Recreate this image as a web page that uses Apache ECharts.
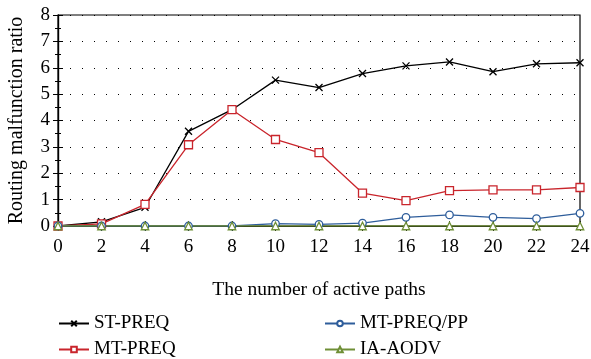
<!DOCTYPE html>
<html><head><meta charset="utf-8">
<script src="https://cdn.jsdelivr.net/npm/echarts@6/dist/echarts.min.js"></script>
<style>html,body{margin:0;padding:0;background:#fff}#c{width:591px;height:359px}</style>
</head><body><div id="c"></div>
<script>
var paths = [0, 2, 4, 6, 8, 10, 12, 14, 16, 18, 20, 22, 24];
var stPreq = [0, 0.16, 0.71, 3.59, 4.41, 5.53, 5.25, 5.78, 6.07, 6.22, 5.85, 6.15, 6.19];
var mtPreq = [0, 0.08, 0.82, 3.08, 4.41, 3.28, 2.78, 1.25, 0.96, 1.34, 1.37, 1.37, 1.46];
var mtPreqPP = [0, 0, 0, 0, 0, 0.09, 0.06, 0.11, 0.33, 0.42, 0.33, 0.28, 0.48];
var iaAodv = [0, 0, 0, 0, 0, 0, 0, 0, 0, 0, 0, 0, 0];
var yTicks = [0, 1, 2, 3, 4, 5, 6, 7, 8];

function pairs(v){ return paths.map(function(x,i){ return [x, v[i]]; }); }
var font = 'Liberation Serif';
var chart = echarts.init(document.getElementById('c'));
function ser(name, data, color, symbol, size){
  return {name:name, type:'line', data:pairs(data), symbol:symbol, symbolSize:size,
    lineStyle:{color:color, width:1.3}, itemStyle:{color: symbol.indexOf('path')===0 ? color : '#fff', borderColor:color, borderWidth:1.3},
    showAllSymbol:true, animation:false, z:3};
}
function leg(name, left, top){
  return {data:[name], orient:'horizontal', left:left, top:top, itemWidth:30, itemHeight:7, itemGap:8,
    textStyle:{fontSize:19, color:'#000', fontFamily:font}};
}
chart.setOption({
  animation:false,
  textStyle:{fontFamily:font},
  grid:{left:58, right:11, top:15, bottom:133, show:true, borderColor:'#000', borderWidth:1.2, containLabel:false, outerBoundsMode:'none'},
  xAxis:[{type:'value', min:0, max:24, interval:2,
    axisLine:{lineStyle:{color:'#000', width:1.2}},
    axisTick:{inside:true, length:5, lineStyle:{color:'#000'}},
    axisLabel:{color:'#000', fontSize:19, fontFamily:font, margin:12},
    splitLine:{show:false},
    name:'The number of active paths', nameLocation:'middle', nameGap:54,
    nameTextStyle:{color:'#000', fontSize:19.5, fontFamily:font}},
   {type:'value', min:0, max:24, interval:2, position:'top',
    axisLine:{lineStyle:{color:'#000', width:1.2}},
    axisTick:{inside:true, length:5, lineStyle:{color:'#000'}},
    axisLabel:{show:false}, splitLine:{show:false}}],
  yAxis:[{type:'value', min:0, max:8, interval:1,
    axisLine:{show:true, lineStyle:{color:'#000', width:1.2}},
    axisTick:{show:true, inside:true, length:5, lineStyle:{color:'#000'}},
    minorTick:{show:true, splitNumber:2, length:3, lineStyle:{color:'#000'}},
    axisLabel:{color:'#000', fontSize:19, fontFamily:font, margin:8,
      formatter:function(v){ return yTicks.indexOf(v)>=0 ? String(v) : ''; }},
    splitLine:{show:true, lineStyle:{color:'#000', type:[1,11], width:1.2}},
    name:'Routing malfunction ratio', nameLocation:'middle', nameGap:31,
    nameTextStyle:{color:'#000', fontSize:20, fontFamily:font}},
   {type:'value', min:0, max:8, interval:1, position:'right',
    axisLine:{show:true, lineStyle:{color:'#000', width:1.2}},
    axisTick:{show:true, inside:true, length:5, lineStyle:{color:'#000'}},
    minorTick:{show:true, splitNumber:2, length:3, lineStyle:{color:'#000'}},
    axisLabel:{show:false}, splitLine:{show:false}}],
  legend:[leg('ST-PREQ', 53, 309), leg('MT-PREQ', 53, 335), leg('MT-PREQ/PP', 319, 309), leg('IA-AODV', 319, 335)],
  series:[
    ser('ST-PREQ', stPreq, '#000', 'path://M0,0L10,10M10,0L0,10', 7),
    ser('MT-PREQ', mtPreq, '#c9252c', 'rect', 8),
    ser('MT-PREQ/PP', mtPreqPP, '#2e5d9b', 'circle', 7.5),
    ser('IA-AODV', iaAodv, '#6f8f36', 'triangle', 7.5)
  ]
});
</script></body></html>
